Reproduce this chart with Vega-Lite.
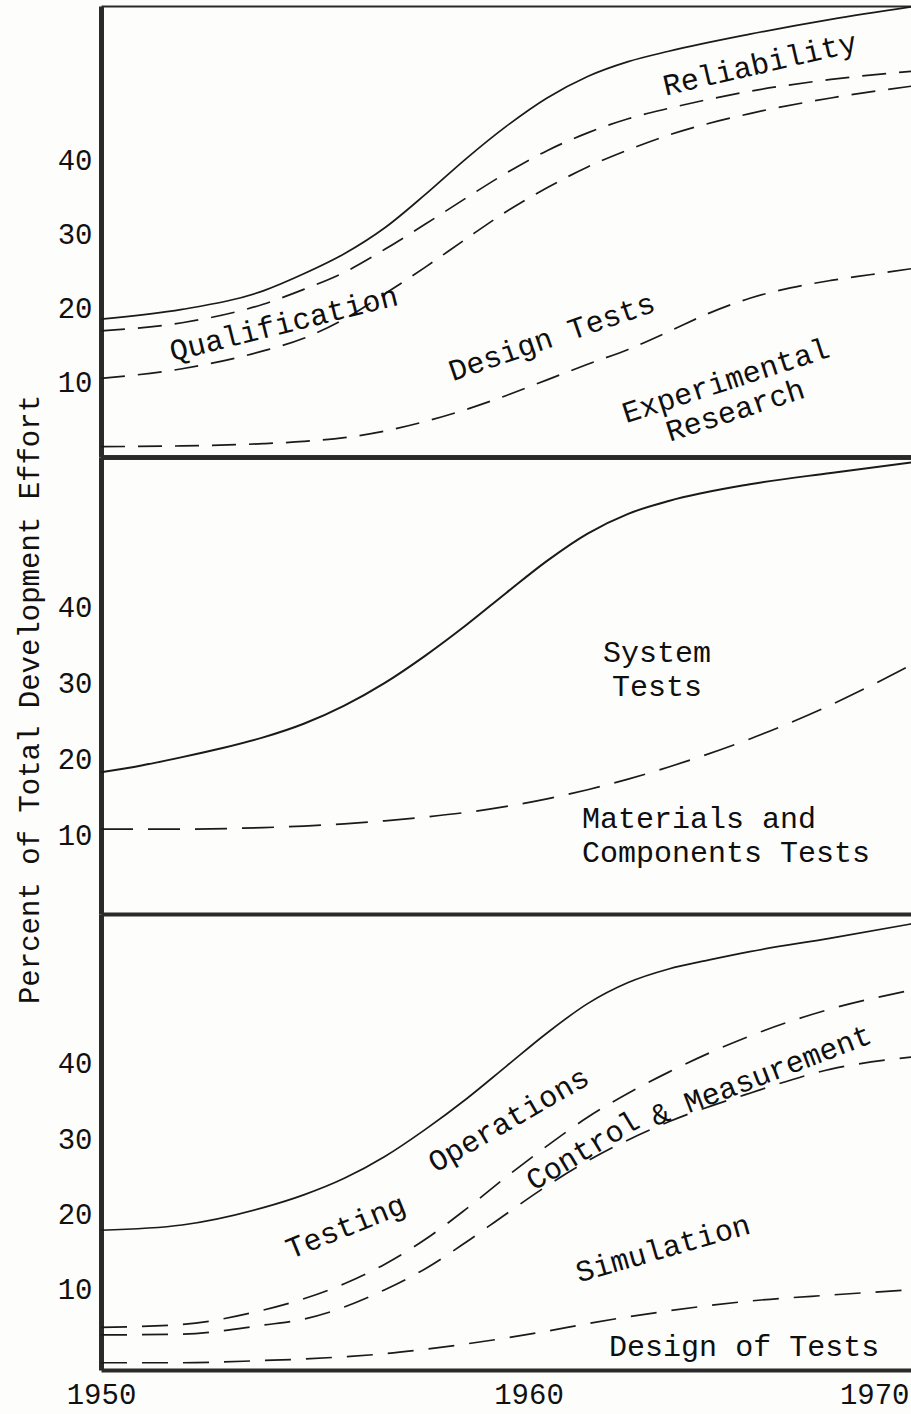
{
  "$schema": "https://vega.github.io/schema/vega-lite/v6.json",
  "autosize": {"type": "pad"},
  "padding": {"left": 14, "top": 3, "right": 0, "bottom": 8},
  "background": "#fdfdfb",
  "spacing": 0,
  "bounds": "flush",
  "config": {
    "view": {"stroke": null},
    "font": "Liberation Mono",
    "axis": {"labelFont": "Liberation Mono", "labelFontSize": 29, "labelColor": "#111111", "titleFont": "Liberation Mono", "titleFontSize": 29, "titleFontWeight": "normal", "titleColor": "#111111", "domainColor": "#2a2a2a", "grid": false, "ticks": false},
    "text": {"font": "Liberation Mono", "fontSize": 30, "color": "#0f0f0f"},
    "line": {"color": "#1a1a1a", "strokeWidth": 1.7, "interpolate": "monotone"}
  },
  "datasets": {
    "panel1": [
      {"boundary": "Reliability", "year": 1950, "percent": 18.6}, {"boundary": "Reliability", "year": 1952, "percent": 19.9}, {"boundary": "Reliability", "year": 1954, "percent": 22.4}, {"boundary": "Reliability", "year": 1955, "percent": 24.7}, {"boundary": "Reliability", "year": 1956, "percent": 27.4}, {"boundary": "Reliability", "year": 1957, "percent": 30.9}, {"boundary": "Reliability", "year": 1958, "percent": 35.4}, {"boundary": "Reliability", "year": 1959, "percent": 40.2}, {"boundary": "Reliability", "year": 1960, "percent": 44.6}, {"boundary": "Reliability", "year": 1961, "percent": 48.4}, {"boundary": "Reliability", "year": 1962, "percent": 51.3}, {"boundary": "Reliability", "year": 1963, "percent": 53.3}, {"boundary": "Reliability", "year": 1964, "percent": 54.7}, {"boundary": "Reliability", "year": 1966, "percent": 57.0}, {"boundary": "Reliability", "year": 1968, "percent": 59.0}, {"boundary": "Reliability", "year": 1970, "percent": 60.7},
      {"boundary": "Qualification", "year": 1950, "percent": 17.0}, {"boundary": "Qualification", "year": 1952, "percent": 18.1}, {"boundary": "Qualification", "year": 1954, "percent": 20.6}, {"boundary": "Qualification", "year": 1955, "percent": 22.6}, {"boundary": "Qualification", "year": 1956, "percent": 24.9}, {"boundary": "Qualification", "year": 1957, "percent": 28.0}, {"boundary": "Qualification", "year": 1958, "percent": 31.4}, {"boundary": "Qualification", "year": 1959, "percent": 34.9}, {"boundary": "Qualification", "year": 1960, "percent": 38.3}, {"boundary": "Qualification", "year": 1961, "percent": 41.3}, {"boundary": "Qualification", "year": 1962, "percent": 43.7}, {"boundary": "Qualification", "year": 1963, "percent": 45.6}, {"boundary": "Qualification", "year": 1964, "percent": 47.0}, {"boundary": "Qualification", "year": 1966, "percent": 49.3}, {"boundary": "Qualification", "year": 1968, "percent": 50.9}, {"boundary": "Qualification", "year": 1970, "percent": 52.0},
      {"boundary": "Design Tests", "year": 1950, "percent": 10.6}, {"boundary": "Design Tests", "year": 1952, "percent": 11.9}, {"boundary": "Design Tests", "year": 1954, "percent": 14.3}, {"boundary": "Design Tests", "year": 1955, "percent": 16.0}, {"boundary": "Design Tests", "year": 1956, "percent": 18.6}, {"boundary": "Design Tests", "year": 1957, "percent": 22.0}, {"boundary": "Design Tests", "year": 1958, "percent": 25.6}, {"boundary": "Design Tests", "year": 1959, "percent": 29.4}, {"boundary": "Design Tests", "year": 1960, "percent": 33.1}, {"boundary": "Design Tests", "year": 1961, "percent": 36.3}, {"boundary": "Design Tests", "year": 1962, "percent": 39.1}, {"boundary": "Design Tests", "year": 1963, "percent": 41.4}, {"boundary": "Design Tests", "year": 1964, "percent": 43.4}, {"boundary": "Design Tests", "year": 1966, "percent": 46.3}, {"boundary": "Design Tests", "year": 1968, "percent": 48.4}, {"boundary": "Design Tests", "year": 1970, "percent": 50.0},
      {"boundary": "Experimental Research", "year": 1950, "percent": 1.4}, {"boundary": "Experimental Research", "year": 1952, "percent": 1.5}, {"boundary": "Experimental Research", "year": 1954, "percent": 1.8}, {"boundary": "Experimental Research", "year": 1955, "percent": 2.1}, {"boundary": "Experimental Research", "year": 1956, "percent": 2.6}, {"boundary": "Experimental Research", "year": 1957, "percent": 3.5}, {"boundary": "Experimental Research", "year": 1958, "percent": 4.8}, {"boundary": "Experimental Research", "year": 1959, "percent": 6.4}, {"boundary": "Experimental Research", "year": 1960, "percent": 8.3}, {"boundary": "Experimental Research", "year": 1961, "percent": 10.4}, {"boundary": "Experimental Research", "year": 1962, "percent": 12.5}, {"boundary": "Experimental Research", "year": 1963, "percent": 14.5}, {"boundary": "Experimental Research", "year": 1964, "percent": 16.9}, {"boundary": "Experimental Research", "year": 1965, "percent": 19.4}, {"boundary": "Experimental Research", "year": 1966, "percent": 21.4}, {"boundary": "Experimental Research", "year": 1967, "percent": 22.8}, {"boundary": "Experimental Research", "year": 1968, "percent": 23.8}, {"boundary": "Experimental Research", "year": 1969, "percent": 24.6}, {"boundary": "Experimental Research", "year": 1970, "percent": 25.4}
    ],
    "panel2": [
      {"boundary": "System Tests", "year": 1950, "percent": 18.3}, {"boundary": "System Tests", "year": 1951, "percent": 19.2}, {"boundary": "System Tests", "year": 1952, "percent": 20.3}, {"boundary": "System Tests", "year": 1953, "percent": 21.5}, {"boundary": "System Tests", "year": 1954, "percent": 22.9}, {"boundary": "System Tests", "year": 1955, "percent": 24.7}, {"boundary": "System Tests", "year": 1956, "percent": 27.1}, {"boundary": "System Tests", "year": 1957, "percent": 30.1}, {"boundary": "System Tests", "year": 1958, "percent": 33.7}, {"boundary": "System Tests", "year": 1959, "percent": 37.7}, {"boundary": "System Tests", "year": 1960, "percent": 42.0}, {"boundary": "System Tests", "year": 1961, "percent": 46.2}, {"boundary": "System Tests", "year": 1962, "percent": 49.8}, {"boundary": "System Tests", "year": 1963, "percent": 52.4}, {"boundary": "System Tests", "year": 1964, "percent": 54.1}, {"boundary": "System Tests", "year": 1966, "percent": 56.3}, {"boundary": "System Tests", "year": 1968, "percent": 57.8}, {"boundary": "System Tests", "year": 1970, "percent": 59.2},
      {"boundary": "Materials and Components Tests", "year": 1950, "percent": 10.8}, {"boundary": "Materials and Components Tests", "year": 1952, "percent": 10.8}, {"boundary": "Materials and Components Tests", "year": 1954, "percent": 11.0}, {"boundary": "Materials and Components Tests", "year": 1955, "percent": 11.2}, {"boundary": "Materials and Components Tests", "year": 1956, "percent": 11.5}, {"boundary": "Materials and Components Tests", "year": 1957, "percent": 11.9}, {"boundary": "Materials and Components Tests", "year": 1958, "percent": 12.4}, {"boundary": "Materials and Components Tests", "year": 1959, "percent": 13.0}, {"boundary": "Materials and Components Tests", "year": 1960, "percent": 13.8}, {"boundary": "Materials and Components Tests", "year": 1961, "percent": 14.8}, {"boundary": "Materials and Components Tests", "year": 1962, "percent": 16.0}, {"boundary": "Materials and Components Tests", "year": 1963, "percent": 17.4}, {"boundary": "Materials and Components Tests", "year": 1964, "percent": 19.0}, {"boundary": "Materials and Components Tests", "year": 1966, "percent": 22.7}, {"boundary": "Materials and Components Tests", "year": 1968, "percent": 27.2}, {"boundary": "Materials and Components Tests", "year": 1970, "percent": 32.5}
    ],
    "panel3": [
      {"boundary": "Testing Operations", "year": 1950, "percent": 17.9}, {"boundary": "Testing Operations", "year": 1952, "percent": 18.6}, {"boundary": "Testing Operations", "year": 1954, "percent": 20.9}, {"boundary": "Testing Operations", "year": 1955, "percent": 22.6}, {"boundary": "Testing Operations", "year": 1956, "percent": 24.8}, {"boundary": "Testing Operations", "year": 1957, "percent": 27.7}, {"boundary": "Testing Operations", "year": 1958, "percent": 31.3}, {"boundary": "Testing Operations", "year": 1959, "percent": 35.3}, {"boundary": "Testing Operations", "year": 1960, "percent": 39.7}, {"boundary": "Testing Operations", "year": 1961, "percent": 44.1}, {"boundary": "Testing Operations", "year": 1962, "percent": 48.0}, {"boundary": "Testing Operations", "year": 1963, "percent": 50.8}, {"boundary": "Testing Operations", "year": 1964, "percent": 52.6}, {"boundary": "Testing Operations", "year": 1965, "percent": 53.8}, {"boundary": "Testing Operations", "year": 1966, "percent": 54.9}, {"boundary": "Testing Operations", "year": 1968, "percent": 56.7}, {"boundary": "Testing Operations", "year": 1970, "percent": 58.6},
      {"boundary": "Control & Measurement", "year": 1950, "percent": 5.0}, {"boundary": "Control & Measurement", "year": 1952, "percent": 5.4}, {"boundary": "Control & Measurement", "year": 1954, "percent": 7.3}, {"boundary": "Control & Measurement", "year": 1955, "percent": 8.8}, {"boundary": "Control & Measurement", "year": 1956, "percent": 10.8}, {"boundary": "Control & Measurement", "year": 1957, "percent": 13.4}, {"boundary": "Control & Measurement", "year": 1958, "percent": 16.7}, {"boundary": "Control & Measurement", "year": 1959, "percent": 20.7}, {"boundary": "Control & Measurement", "year": 1960, "percent": 25.0}, {"boundary": "Control & Measurement", "year": 1961, "percent": 29.1}, {"boundary": "Control & Measurement", "year": 1962, "percent": 32.9}, {"boundary": "Control & Measurement", "year": 1963, "percent": 36.1}, {"boundary": "Control & Measurement", "year": 1964, "percent": 38.9}, {"boundary": "Control & Measurement", "year": 1966, "percent": 43.7}, {"boundary": "Control & Measurement", "year": 1968, "percent": 47.3}, {"boundary": "Control & Measurement", "year": 1970, "percent": 49.8},
      {"boundary": "Simulation", "year": 1950, "percent": 4.0}, {"boundary": "Simulation", "year": 1952, "percent": 4.1}, {"boundary": "Simulation", "year": 1954, "percent": 5.3}, {"boundary": "Simulation", "year": 1955, "percent": 6.1}, {"boundary": "Simulation", "year": 1956, "percent": 7.7}, {"boundary": "Simulation", "year": 1957, "percent": 10.0}, {"boundary": "Simulation", "year": 1958, "percent": 12.8}, {"boundary": "Simulation", "year": 1959, "percent": 16.3}, {"boundary": "Simulation", "year": 1960, "percent": 20.1}, {"boundary": "Simulation", "year": 1961, "percent": 23.8}, {"boundary": "Simulation", "year": 1962, "percent": 27.1}, {"boundary": "Simulation", "year": 1963, "percent": 29.9}, {"boundary": "Simulation", "year": 1964, "percent": 32.3}, {"boundary": "Simulation", "year": 1966, "percent": 36.1}, {"boundary": "Simulation", "year": 1968, "percent": 39.3}, {"boundary": "Simulation", "year": 1970, "percent": 40.9},
      {"boundary": "Design of Tests", "year": 1950, "percent": 0.3}, {"boundary": "Design of Tests", "year": 1952, "percent": 0.3}, {"boundary": "Design of Tests", "year": 1954, "percent": 0.6}, {"boundary": "Design of Tests", "year": 1955, "percent": 0.8}, {"boundary": "Design of Tests", "year": 1956, "percent": 1.1}, {"boundary": "Design of Tests", "year": 1957, "percent": 1.5}, {"boundary": "Design of Tests", "year": 1958, "percent": 2.1}, {"boundary": "Design of Tests", "year": 1959, "percent": 2.8}, {"boundary": "Design of Tests", "year": 1960, "percent": 3.6}, {"boundary": "Design of Tests", "year": 1961, "percent": 4.5}, {"boundary": "Design of Tests", "year": 1962, "percent": 5.5}, {"boundary": "Design of Tests", "year": 1963, "percent": 6.4}, {"boundary": "Design of Tests", "year": 1964, "percent": 7.2}, {"boundary": "Design of Tests", "year": 1966, "percent": 8.5}, {"boundary": "Design of Tests", "year": 1968, "percent": 9.3}, {"boundary": "Design of Tests", "year": 1970, "percent": 10.0}
    ]
  },
  "vconcat": [
    {
      "width": 811,
      "height": 451,
      "encoding": {
        "x": {"field": "year", "type": "quantitative", "scale": {"domain": [1950, 1970], "nice": false, "zero": false}, "axis": {"orient": "bottom", "labels": false, "ticks": false, "domainWidth": 4, "title": null}},
        "y": {"field": "percent", "type": "quantitative", "scale": {"domain": [0, 60.8], "nice": false, "zero": false}, "axis": {"values": [10, 20, 30, 40], "ticks": false, "labelPadding": 9, "domainWidth": 5, "title": null}}
      },
      "layer": [
        {
          "data": {"name": "panel1"},
          "transform": [{"filter": "datum.boundary == 'Reliability'"}],
          "mark": {"type": "line"},
          "encoding": {
            "x": {"field": "year", "type": "quantitative", "scale": {"domain": [1950, 1970], "nice": false, "zero": false}, "axis": {"orient": "top", "labels": false, "ticks": false, "domainWidth": 2, "title": null}}
          }
        },
        {
          "data": {"name": "panel1"},
          "transform": [{"filter": "datum.boundary != 'Reliability'"}],
          "mark": {"type": "line", "strokeDash": [24, 13]},
          "encoding": {"detail": {"field": "boundary"}}
        },
        {"data": {"values": [{"label": "Reliability", "year": 1966.25, "percent": 52.9}]}, "mark": {"type": "text", "angle": 347}, "encoding": {"text": {"field": "label"}}},
        {"data": {"values": [{"label": "Qualification", "year": 1954.51, "percent": 17.9}]}, "mark": {"type": "text", "angle": 346}, "encoding": {"text": {"field": "label"}}},
        {"data": {"values": [{"label": "Design Tests", "year": 1961.12, "percent": 16.1}]}, "mark": {"type": "text", "angle": 341}, "encoding": {"text": {"field": "label"}}},
        {"data": {"values": [{"label": "Experimental\nResearch", "year": 1965.41, "percent": 10.2}]}, "mark": {"type": "text", "angle": 342, "lineBreak": "\n", "lineHeight": 31}, "encoding": {"text": {"field": "label"}}}
      ],
      "resolve": {"axis": {"x": "independent"}}
    },
    {
      "width": 811,
      "height": 457,
      "encoding": {
        "x": {"field": "year", "type": "quantitative", "scale": {"domain": [1950, 1970], "nice": false, "zero": false}, "axis": {"orient": "bottom", "labels": false, "ticks": false, "domainWidth": 4, "title": null}},
        "y": {"field": "percent", "type": "quantitative", "scale": {"domain": [-0.4, 59.9], "nice": false, "zero": false}, "axis": {"values": [10, 20, 30, 40], "ticks": false, "labelPadding": 9, "domainWidth": 5, "title": "Percent of Total Development Effort", "titleX": -72, "titleY": 242, "titleAngle": 270, "titleBaseline": "middle", "titleAlign": "center"}}
      },
      "layer": [
        {
          "data": {"name": "panel2"},
          "transform": [{"filter": "datum.boundary == 'System Tests'"}],
          "mark": {"type": "line", "strokeWidth": 2}
        },
        {
          "data": {"name": "panel2"},
          "transform": [{"filter": "datum.boundary != 'System Tests'"}],
          "mark": {"type": "line", "strokeDash": [32, 15]},
          "encoding": {"detail": {"field": "boundary"}}
        },
        {"data": {"values": [{"label": "System\nTests", "year": 1963.71, "percent": 34.0}]}, "mark": {"type": "text", "lineBreak": "\n", "lineHeight": 34}, "encoding": {"text": {"field": "label"}}},
        {"data": {"values": [{"label": "Materials and\nComponents Tests", "year": 1961.86, "percent": 12.2}]}, "mark": {"type": "text", "align": "left", "lineBreak": "\n", "lineHeight": 34}, "encoding": {"text": {"field": "label"}}}
      ]
    },
    {
      "width": 811,
      "height": 456,
      "encoding": {
        "x": {"field": "year", "type": "quantitative", "scale": {"domain": [1950, 1970], "nice": false, "zero": false}, "axis": {"orient": "bottom", "values": [1950, 1960, 1970], "format": "d", "ticks": false, "domainWidth": 4, "title": null, "labelPadding": 10, "labelBound": false, "labelFlush": false, "labelOverlap": false, "labelAlign": {"condition": {"test": "datum.value == 1970", "value": "right"}, "value": "center"}, "labelOffset": {"condition": [{"test": "datum.value == 1960", "value": 22}, {"test": "datum.value == 1970", "value": -3}], "value": 0}}},
        "y": {"field": "percent", "type": "quantitative", "scale": {"domain": [-0.66, 59.9], "nice": false, "zero": false}, "axis": {"values": [10, 20, 30, 40], "ticks": false, "labelPadding": 9, "domainWidth": 5, "title": null}}
      },
      "layer": [
        {
          "data": {"name": "panel3"},
          "transform": [{"filter": "datum.boundary == 'Testing Operations'"}],
          "mark": {"type": "line"}
        },
        {
          "data": {"name": "panel3"},
          "transform": [{"filter": "datum.boundary != 'Testing Operations'"}],
          "mark": {"type": "line", "strokeDash": [26, 15]},
          "encoding": {"detail": {"field": "boundary"}}
        },
        {"data": {"values": [{"label": "Testing", "year": 1956.04, "percent": 18.3}]}, "mark": {"type": "text", "angle": 338}, "encoding": {"text": {"field": "label"}}},
        {"data": {"values": [{"label": "Operations", "year": 1960.06, "percent": 32.5}]}, "mark": {"type": "text", "angle": 330}, "encoding": {"text": {"field": "label"}}},
        {"data": {"values": [{"label": "Control", "year": 1961.89, "percent": 28.4}]}, "mark": {"type": "text", "angle": 329}, "encoding": {"text": {"field": "label"}}},
        {"data": {"values": [{"label": "& Measurement", "year": 1966.28, "percent": 38.4}]}, "mark": {"type": "text", "angle": 339}, "encoding": {"text": {"field": "label"}}},
        {"data": {"values": [{"label": "Simulation", "year": 1963.86, "percent": 15.4}]}, "mark": {"type": "text", "angle": 344}, "encoding": {"text": {"field": "label"}}},
        {"data": {"values": [{"label": "Design of Tests", "year": 1965.86, "percent": 2.4}]}, "mark": {"type": "text"}, "encoding": {"text": {"field": "label"}}}
      ]
    }
  ]
}
